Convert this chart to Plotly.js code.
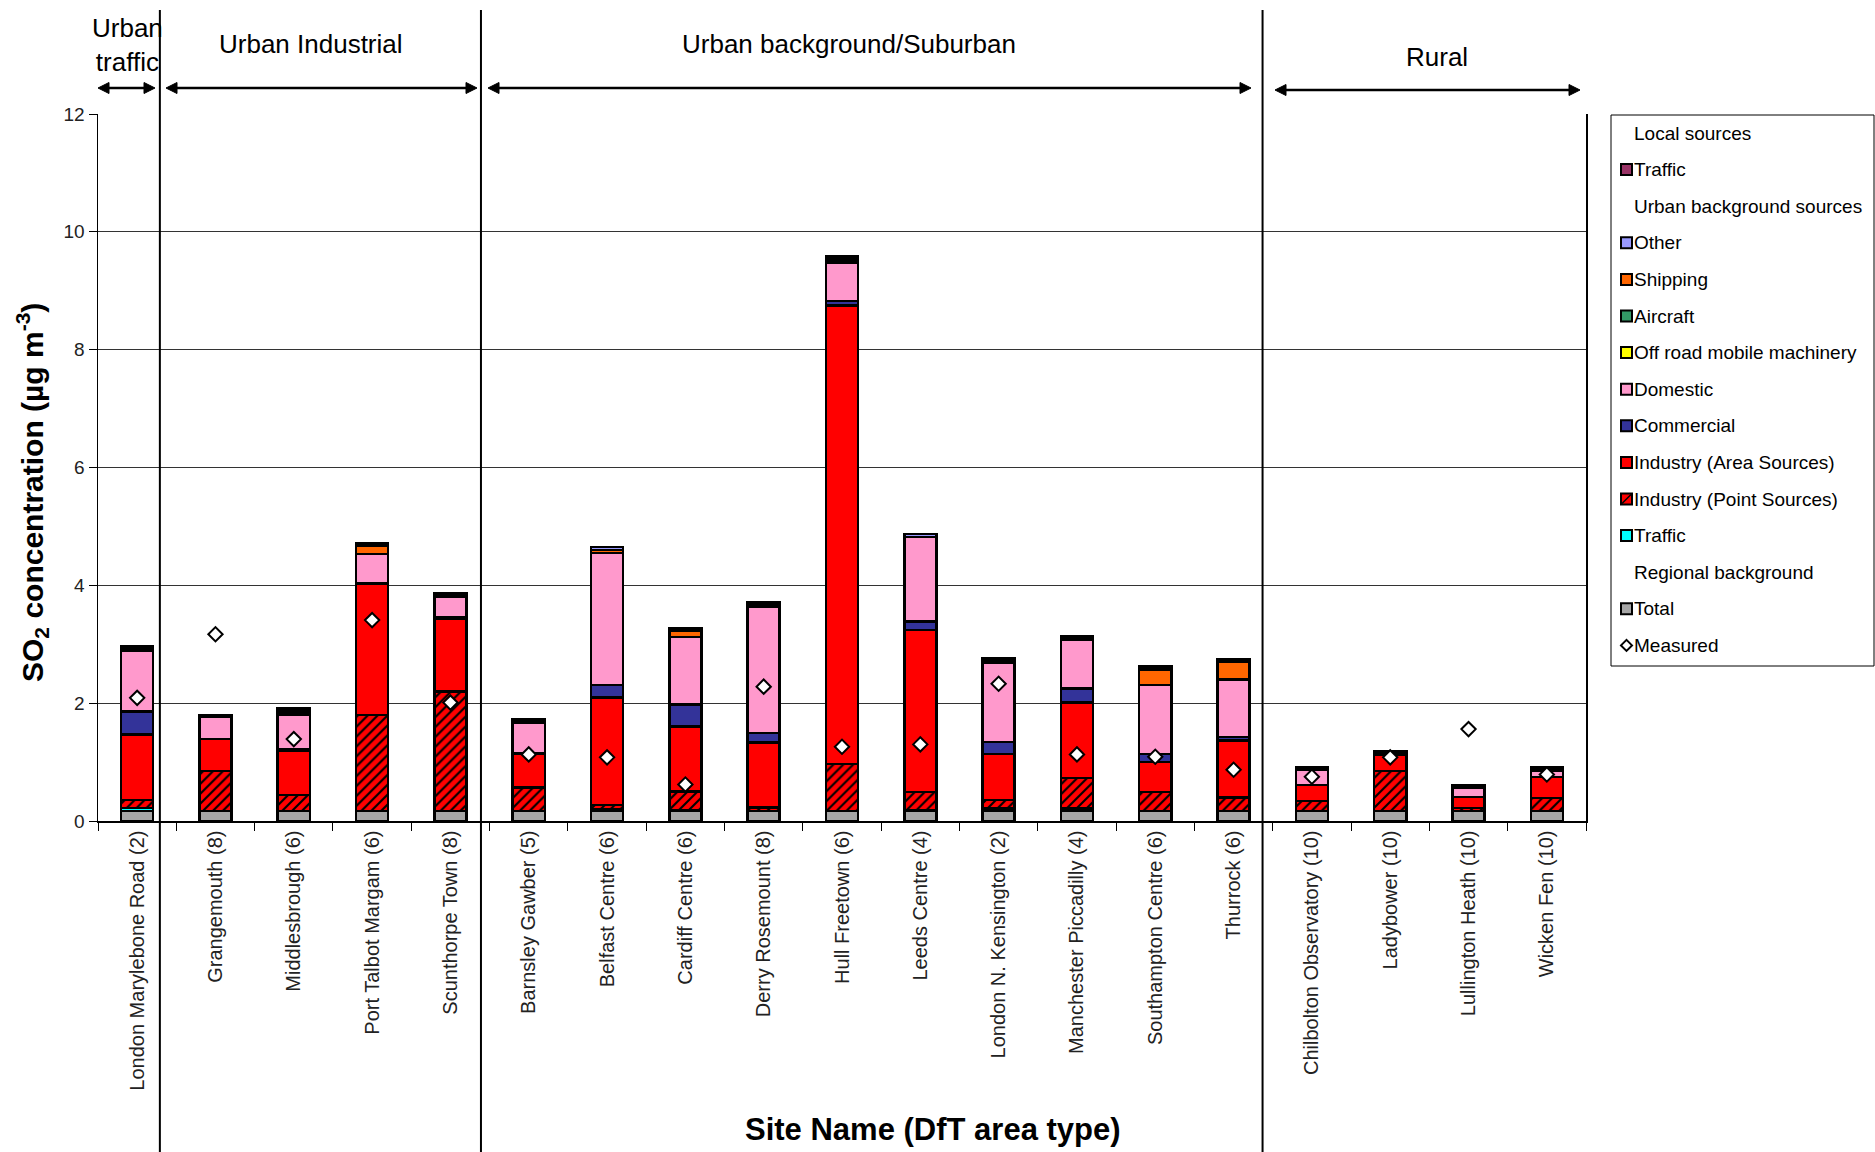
<!DOCTYPE html>
<html>
<head>
<meta charset="utf-8">
<script src="https://cdn.plot.ly/plotly-3.0.1.min.js"></script>
<style>html,body{margin:0;padding:0;background:#fff;}#chart{width:1875px;height:1152px;}</style>
</head>
<body>
<div id="chart"></div>
<script>
// ---------------- DATA ----------------
const sites = ["London Marylebone Road (2)","Grangemouth (8)","Middlesbrough (6)","Port Talbot Margam (6)","Scunthorpe Town (8)",
  "Barnsley Gawber (5)","Belfast Centre (6)","Cardiff Centre (6)","Derry Rosemount (8)","Hull Freetown (6)","Leeds Centre (4)",
  "London N. Kensington (2)","Manchester Piccadilly (4)","Southampton Centre (6)","Thurrock (6)",
  "Chilbolton Observatory (10)","Ladybower (10)","Lullington Heath (10)","Wicken Fen (10)"];
const regionalTotal = [0.17,0.17,0.17,0.17,0.17,0.17,0.17,0.17,0.17,0.17,0.17,0.17,0.17,0.17,0.17,0.17,0.17,0.17,0.17];
const trafficUB     = [0.05,0,0,0,0,0,0.03,0.02,0,0,0.02,0.04,0.04,0,0,0,0,0,0];
const industryPoint = [0.14,0.68,0.27,1.63,2.03,0.40,0.07,0.31,0.06,0.80,0.30,0.15,0.52,0.32,0.23,0.17,0.68,0.05,0.22];
const industryArea  = [1.11,0.54,0.75,2.22,1.24,0.58,1.83,1.10,1.10,7.78,2.75,0.78,1.28,0.51,0.97,0.27,0.27,0.19,0.36];
const commercial    = [0.39,0,0.03,0.02,0.02,0,0.21,0.38,0.16,0.08,0.15,0.20,0.24,0.14,0.06,0,0,0,0];
const domestic      = [1.03,0.38,0.59,0.49,0.34,0.52,2.24,1.14,2.15,0.64,1.43,1.34,0.83,1.17,0.97,0.26,0.03,0.16,0.11];
const offRoad       = [0.02,0,0.02,0,0.02,0,0,0,0.02,0.03,0,0.02,0.02,0,0,0,0,0,0];
const aircraft      = [0.02,0,0,0,0.02,0,0,0,0.02,0.03,0,0.02,0.02,0,0,0,0,0,0];
const shipping      = [0,0,0.04,0.15,0,0,0.05,0.11,0,0,0,0,0,0.26,0.30,0,0,0,0];
const other         = [0.03,0.03,0.04,0.03,0.02,0.05,0.05,0.04,0.03,0.05,0.05,0.04,0.02,0.05,0.04,0.04,0.04,0.04,0.05];
const localTraffic  = [0,0,0,0,0,0,0,0,0,0,0,0,0,0,0,0,0,0,0];
const measured      = [2.09,3.17,1.39,3.41,2.01,1.13,1.08,0.62,2.28,1.26,1.30,2.33,1.13,1.09,0.87,0.75,1.08,1.56,0.79];

const yTicks = [0,2,4,6,8,10,12];
const groupNames = ["Urban<br>traffic","Urban Industrial","Urban background/Suburban","Rural"];

// legend entries (top to bottom)
const legendItems = [
  {name:"Local sources", header:true},
  {name:"Traffic", color:"#993366"},
  {name:"Urban background sources", header:true},
  {name:"Other", color:"#9999FF"},
  {name:"Shipping", color:"#FF6600"},
  {name:"Aircraft", color:"#339966"},
  {name:"Off road mobile machinery", color:"#FFFF00"},
  {name:"Domestic", color:"#FF99CC"},
  {name:"Commercial", color:"#333399"},
  {name:"Industry (Area Sources)", color:"#FF0000"},
  {name:"Industry (Point Sources)", color:"#FF0000", hatch:true},
  {name:"Traffic", color:"#00FFFF"},
  {name:"Regional background", header:true},
  {name:"Total", color:"#A6A6A6"},
  {name:"Measured", diamond:true}
];

// ---------------- LAYOUT HELPERS ----------------
const FW = 1875, FH = 1152;
const L = 98, R = 1586, T = 114, B = 821;
const W = R - L, H = B - T;
const px2x = p => (p - L) / W;
const px2y = p => (B - p) / H;
const FONT = "Liberation Sans, Arial, sans-serif";

const nz = arr => arr.map(v => v === 0 ? null : v);
const outline = {color:"#000", width:2.5};

const stackDefs = [
  {y: regionalTotal, color:"#A6A6A6"},
  {y: trafficUB, color:"#00FFFF"},
  {y: industryPoint, color:"#FF0000", hatch:true},
  {y: industryArea, color:"#FF0000"},
  {y: commercial, color:"#333399"},
  {y: domestic, color:"#FF99CC"},
  {y: offRoad, color:"#FFFF00"},
  {y: aircraft, color:"#339966"},
  {y: shipping, color:"#FF6600"},
  {y: other, color:"#9999FF"},
  {y: localTraffic, color:"#993366"}
];

const traces = stackDefs.map(d => {
  const m = {color: d.color, line: outline};
  if (d.hatch) m.pattern = {shape:"/", fgcolor:"#000", bgcolor:"#FF0000", fillmode:"replace", size:7, solidity:0.3};
  return {type:"bar", x: sites, y: nz(d.y), marker: m, showlegend:false, hoverinfo:"y"};
});
traces.push({type:"scatter", mode:"markers", x: sites, y: measured, showlegend:false,
  marker:{symbol:"diamond", size:11, color:"#fff", line:{color:"#000", width:2}}});

// separators (between categories)
const sepX = [0.29, 4.39, 14.37];
const shapes = sepX.map(x => ({type:"line", xref:"x", yref:"paper", x0:x, x1:x,
  y0: px2y(FH), y1: px2y(10), line:{color:"#000", width:2}}));

// double-headed arrows
const arrows = [[98,155,88],[166,477,88],[488,1251,88],[1275,1580,90]];
arrows.forEach(([a,b,y]) => {
  shapes.push({type:"line", xref:"paper", yref:"paper", x0:px2x(a+8), x1:px2x(b-8), y0:px2y(y), y1:px2y(y), line:{color:"#000", width:2.5}});
  const hl = 11, hh = 5.5;
  shapes.push({type:"path", xref:"paper", yref:"paper", fillcolor:"#000", line:{color:"#000", width:1},
    path:`M ${px2x(a)} ${px2y(y)} L ${px2x(a+hl)} ${px2y(y-hh)} L ${px2x(a+hl)} ${px2y(y+hh)} Z`});
  shapes.push({type:"path", xref:"paper", yref:"paper", fillcolor:"#000", line:{color:"#000", width:1},
    path:`M ${px2x(b)} ${px2y(y)} L ${px2x(b-hl)} ${px2y(y-hh)} L ${px2x(b-hl)} ${px2y(y+hh)} Z`});
});

const annotations = [];
const groupPos = [[127,45],[311,44],[849,44],[1437,57]];
groupNames.forEach((g,i) => annotations.push({xref:"paper", yref:"paper", x:px2x(groupPos[i][0]), y:px2y(groupPos[i][1]),
  text:g, showarrow:false, xanchor:"center", yanchor:"middle", font:{family:FONT, size:26, color:"#000"}}));

// axis titles
annotations.push({xref:"paper", yref:"paper", x:px2x(933), y:px2y(1129), text:"<b>Site Name (DfT area type)</b>",
  showarrow:false, xanchor:"center", yanchor:"middle", font:{family:FONT, size:31, color:"#000"}});
annotations.push({xref:"paper", yref:"paper", x:px2x(32), y:px2y(493), textangle:-90,
  text:"<b>SO<sub>2</sub> concentration (µg m<sup>-3</sup>)</b>",
  showarrow:false, xanchor:"center", yanchor:"middle", font:{family:FONT, size:30, color:"#000"}});

// custom legend
shapes.push({type:"rect", xref:"paper", yref:"paper", x0:px2x(1611), x1:px2x(1874), y0:px2y(115), y1:px2y(666),
  line:{color:"#000", width:1}, fillcolor:"rgba(0,0,0,0)"});
legendItems.forEach((it,i) => {
  const cy = 133 + i*36.6;
  annotations.push({xref:"paper", yref:"paper", x:px2x(1632), y:px2y(cy), text:it.name, showarrow:false,
    xanchor:"left", yanchor:"middle", font:{family:FONT, size:19, color:"#000"}});
  if (it.header) return;
  if (it.diamond) {
    shapes.push({type:"path", xref:"paper", yref:"paper", fillcolor:"#fff", line:{color:"#000", width:2},
      path:`M ${px2x(1621)} ${px2y(cy)} L ${px2x(1626.5)} ${px2y(cy-5.5)} L ${px2x(1632)} ${px2y(cy)} L ${px2x(1626.5)} ${px2y(cy+5.5)} Z`});
    return;
  }
  shapes.push({type:"rect", xref:"paper", yref:"paper", x0:px2x(1621), x1:px2x(1632), y0:px2y(cy+5.5), y1:px2y(cy-5.5),
    fillcolor:it.color, line:{color:"#000", width:2}});
  if (it.hatch) shapes.push({type:"line", xref:"paper", yref:"paper", x0:px2x(1622), x1:px2x(1631), y0:px2y(cy+4.5), y1:px2y(cy-4.5),
    line:{color:"#000", width:1.5}});
});

const layout = {
  width: FW, height: FH,
  margin: {l: L, r: FW - R, t: T, b: FH - B, pad: 0},
  paper_bgcolor: "#fff", plot_bgcolor: "#fff",
  barmode: "stack", bargap: 0.59,
  showlegend: false,
  font: {family: FONT, size: 20, color: "#222"},
  xaxis: {type:"category", tickangle:-90, ticks:"outside", tickson:"boundaries", ticklen:8, tickcolor:"#000",
    showline:true, linecolor:"#000", linewidth:1.5, showgrid:false, automargin:false,
    tickfont:{family:FONT, size:20, color:"#222"}, range:[-0.5, 18.5]},
  yaxis: {range:[0,12], tickvals:yTicks, ticktext:yTicks.map(String), ticks:"outside", ticklen:8, tickcolor:"#000",
    showline:true, linecolor:"#000", linewidth:1.5, mirror:true, showgrid:true, gridcolor:"#333", gridwidth:1.2,
    zeroline:false, automargin:false, tickfont:{family:FONT, size:19, color:"#222"}},
  shapes: shapes,
  annotations: annotations
};

Plotly.newPlot("chart", traces, layout, {displayModeBar:false, staticPlot:true});
</script>
</body>
</html>
